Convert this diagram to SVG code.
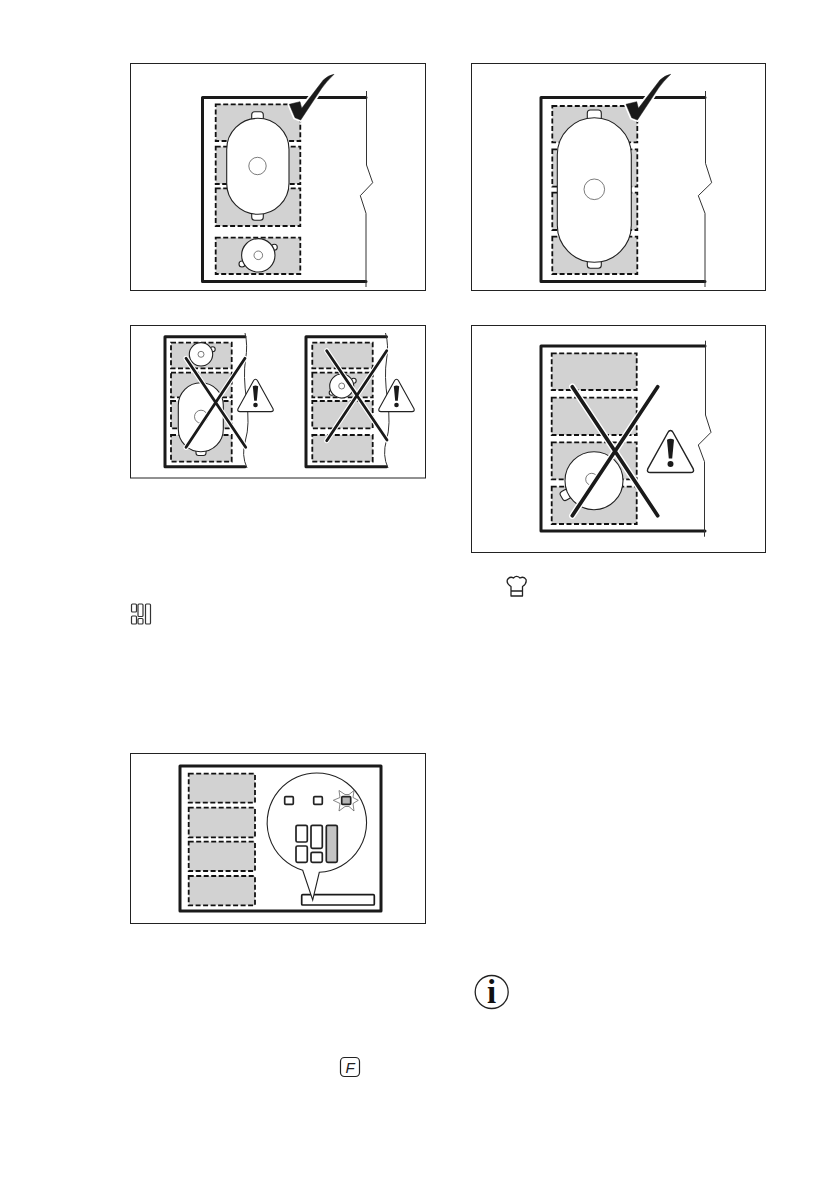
<svg xmlns="http://www.w3.org/2000/svg" width="839" height="1191" viewBox="0 0 839 1191">
<style>
.frame{fill:#fff;stroke:#222;stroke-width:1}
.hob{fill:none;stroke:#1a1a1a;stroke-width:3;stroke-linejoin:round;stroke-linecap:round}
.torn{fill:none;stroke:#333;stroke-width:1}
.zone{fill:#d2d2d2;stroke:#111;stroke-width:1.800;stroke-dasharray:5 2.500}
.pan{fill:#fff;stroke:#222;stroke-width:1.100}
.thin{fill:#fff;stroke:#444;stroke-width:.7}
.halo{fill:none;stroke:#fff;stroke-width:5;stroke-linecap:round}
.xl{fill:none;stroke:#1a1a1a;stroke-width:2.800;stroke-linecap:round}
.chk{fill:#1a1a1a;stroke:#1a1a1a;stroke-width:.5;stroke-linejoin:round}
.chkh{fill:#fff;stroke:#fff;stroke-width:4;stroke-linejoin:round}
.key{fill:#fff;stroke:#222;stroke-width:1.700}
.ico{fill:#fff;stroke:#333;stroke-width:1.200}
.tri{fill:#fff;stroke:#222;stroke-width:1.100;stroke-linejoin:round}
</style>
<defs>
<g id="check">
<path class="chkh" d="M289.300 104.300L300 101.700L301.700 108.300L323.300 80Q328 75.500 334 74.300Q326 82 321.700 88.300L300.700 120L295 117.700Z"/>
<path class="chk" d="M289.300 104.300L300 101.700L301.700 108.300L323.300 80Q328 75.500 334 74.300Q326 82 321.700 88.300L300.700 120L295 117.700Z"/>
</g>
<g id="warn">
<path class="tri" d="M0 -16.500Q1.200 -16.500 2 -15L17.500 13Q18.500 15.800 15.500 15.800L-15.500 15.800Q-18.500 15.800 -17.500 13L-2 -15Q-1.200 -16.500 0 -16.500Z"/>
<path fill="#1a1a1a" d="M-2.700 -9.500Q0 -11 2.700 -9.500L1.300 5L-1.300 5Z"/>
<circle cx="0" cy="9.200" r="2.300" fill="#1a1a1a"/>
</g>
</defs>
<rect width="839" height="1191" fill="#fff"/>

<g id="panel-1">
<rect class="frame" x="130.500" y="63.500" width="295" height="227"/>
<path class="hob" d="M366 97.500H202.500V281.500H366"/>
<path class="torn" d="M366.500 91V165L372.700 182.700L360.300 195.700L366 213.300V287"/>
<rect class="zone" x="215.700" y="104.300" width="84.600" height="36.700"/>
<rect class="zone" x="215.700" y="146.700" width="84.600" height="37.300"/>
<rect class="zone" x="215.700" y="188.300" width="84.600" height="37.700"/>
<rect class="zone" x="215.700" y="237.700" width="84.600" height="36.300"/>
<rect class="pan" x="251.700" y="111.700" width="11.600" height="12" rx="3"/>
<rect class="pan" x="251.700" y="209" width="11.600" height="11.200" rx="3"/>
<rect class="pan" x="226.700" y="118.300" width="62.300" height="96" rx="31.100"/>
<circle class="thin" cx="257.500" cy="166" r="8.700"/>
<circle class="pan" cx="274.300" cy="247.300" r="3"/>
<circle class="pan" cx="242" cy="264" r="3"/>
<circle class="pan" cx="258.300" cy="255.300" r="16.700"/>
<circle class="thin" cx="258.300" cy="255.300" r="4.300"/>
<use href="#check"/>
</g>

<g id="panel-2">
<rect class="frame" x="130.500" y="325.500" width="295" height="152.500"/>
<path class="hob" d="M245 336.700H165V466.700H245"/>
<path class="torn" d="M245 333Q248 345 245.500 360T246.500 400T245.500 440T247 468"/>
<rect class="zone" x="171" y="342.700" width="60.700" height="25.600"/>
<rect class="zone" x="171" y="372.700" width="60.700" height="24.600"/>
<rect class="zone" x="171" y="401" width="60.700" height="27.300"/>
<rect class="zone" x="171" y="435" width="60.700" height="26.700"/>
<circle class="pan" cx="212.700" cy="349.300" r="2.500"/>
<circle class="pan" cx="201" cy="354.300" r="11.700"/>
<circle class="thin" cx="201" cy="354.300" r="3"/>
<rect class="pan" x="196" y="447" width="10" height="8.500" rx="2.500"/>
<rect class="pan" x="178.300" y="382.700" width="45" height="69" rx="22.500"/>
<circle class="thin" cx="201" cy="416.700" r="6.500"/>
<path class="halo" d="M186 358.300L245.700 447.300M186 447.300L245 358.300"/>
<path class="xl" d="M186 358.300L245.700 447.300M186 447.300L245 358.300"/>
<use href="#warn" x="255.500" y="395.800"/>
<path class="hob" d="M386.500 336.700H306V466.700H386.500"/>
<path class="torn" d="M385.500 333Q389 345 386.500 360T387.500 400T386.500 440T388 468"/>
<rect class="zone" x="312.300" y="342.700" width="60.400" height="25.600"/>
<rect class="zone" x="312.300" y="372.700" width="60.400" height="24.600"/>
<rect class="zone" x="312.300" y="401" width="60.400" height="27.300"/>
<rect class="zone" x="312.300" y="435" width="60.400" height="26.700"/>
<circle class="pan" cx="353.700" cy="380.700" r="2.500"/>
<circle class="pan" cx="331.700" cy="392.700" r="2.500"/>
<circle class="pan" cx="341.700" cy="386" r="12"/>
<circle class="thin" cx="341.700" cy="386" r="3"/>
<path class="halo" d="M326.700 350.700L387 440M326.700 440.700L386.700 350.700"/>
<path class="xl" d="M326.700 350.700L387 440M326.700 440.700L386.700 350.700"/>
<use href="#warn" x="396.500" y="395.800"/>
</g>

<g id="panel-3">
<rect class="frame" x="471.500" y="63.500" width="294" height="227"/>
<path class="hob" d="M705 97.500H541V281.500H705"/>
<path class="torn" d="M705.500 91V163.300L711.700 182.700L698.300 195.700L705 213.300V287"/>
<rect class="zone" x="552.300" y="106" width="85" height="36.300"/>
<rect class="zone" x="552.300" y="149.300" width="85" height="37.400"/>
<rect class="zone" x="552.300" y="192.700" width="85" height="37.300"/>
<rect class="zone" x="552.300" y="236.700" width="85" height="37.300"/>
<rect class="pan" x="587.300" y="110" width="14" height="14" rx="3"/>
<rect class="pan" x="587.300" y="256" width="14" height="12.300" rx="3"/>
<rect class="pan" x="557.300" y="117.700" width="74" height="144.600" rx="37"/>
<circle class="thin" cx="594.300" cy="189.300" r="10.300"/>
<use href="#check" x="336.700"/>
</g>

<g id="panel-4">
<rect class="frame" x="471.500" y="325.500" width="294" height="227"/>
<path class="hob" d="M705 346H541V531H705"/>
<path class="torn" d="M705.500 340.700V415L711 432.300L698.300 445L704.500 461.700V536.700"/>
<rect class="zone" x="551.700" y="353.300" width="85" height="36.700"/>
<rect class="zone" x="551.700" y="397.700" width="85" height="37.300"/>
<rect class="zone" x="551.700" y="442.300" width="85" height="37"/>
<rect class="zone" x="551.700" y="486.700" width="85" height="37.300"/>
<rect class="pan" x="561" y="490" width="9" height="10" rx="3" transform="rotate(-30 565.500 495)"/>
<circle class="pan" cx="594" cy="480.700" r="29"/>
<circle class="thin" cx="591.700" cy="479.300" r="6"/>
<path class="halo" style="stroke-width:6.500" d="M572.300 386.700L657.700 515.700M572.300 515.700L657.700 386.700"/>
<path class="xl" style="stroke-width:3.700" d="M572.300 386.700L657.700 515.700M572.300 515.700L657.700 386.700"/>
<use href="#warn" transform="translate(670.500 452) scale(1.300)"/>
</g>

<g id="icon-zones">
<rect class="ico" x="131.500" y="604" width="5" height="8" rx="1"/>
<rect class="ico" x="131.500" y="616" width="5" height="8" rx="1"/>
<rect class="ico" x="138" y="604" width="5" height="12.500" rx="1"/>
<rect class="ico" x="138" y="618.500" width="5" height="5.500" rx="1"/>
<rect class="ico" x="145.500" y="604" width="5" height="20" rx="1"/>
</g>

<g id="icon-chef">
<path fill="#fff" stroke="#222" stroke-width="1.300" stroke-linejoin="round" d="M511 596V586.500Q506 583.500 507.500 579.500Q510 576 513.500 578Q516.500 574.800 520 578Q524 576 526 579.500Q527 583.500 522.500 586.500V596ZM511 591H522.500"/>
</g>

<g id="panel-5">
<rect class="frame" x="130.500" y="753.500" width="295" height="170"/>
<rect class="hob" x="180" y="766" width="201" height="145"/>
<rect class="zone" x="188.700" y="773.700" width="66.300" height="29"/>
<rect class="zone" x="188.700" y="807.700" width="66.300" height="29.600"/>
<rect class="zone" x="188.700" y="841.700" width="66.300" height="29.300"/>
<rect class="zone" x="188.700" y="876" width="66.300" height="29.300"/>
<rect x="301.700" y="894.700" width="72.600" height="10.300" rx="1" fill="#fff" stroke="#1a1a1a" stroke-width="1.700"/>
<path class="pan" d="M302.700 870.300A49.700 49.700 0 1 1 319.300 872.300L312.700 900Z"/>
<rect class="key" x="284.700" y="796.700" width="8.600" height="7.600" rx="1"/>
<rect class="key" x="313.700" y="796.700" width="8.600" height="7.600" rx="1"/>
<path fill="#fff" stroke="#555" stroke-width=".7" stroke-linejoin="round" d="M333.300 800.300L340 797.500L339 790.500L345 794.500L349 794.500L354 790.500L353 797.500L358.300 800.300L353 803.500L354 811L349 806.500L345 806.500L339 811L340 803.500Z"/>
<rect class="key" style="fill:#b5b5b5" x="341.700" y="796.700" width="9" height="7.600" rx="1"/>
<rect class="key" x="296" y="825.300" width="11.300" height="16.700" rx="1.500"/>
<rect class="key" x="296" y="846" width="11.300" height="16.300" rx="1.500"/>
<rect class="key" x="311" y="825.300" width="11.300" height="23" rx="1.500"/>
<rect class="key" x="311" y="852.300" width="11.300" height="10" rx="1.500"/>
<rect class="key" style="fill:#c4c4c4" x="326.300" y="825.300" width="11" height="37" rx="1.500"/>
</g>

<g id="icon-info">
<circle cx="491.700" cy="992" r="16.500" fill="#fff" stroke="#222" stroke-width="1.300"/>
<text x="491.700" y="1003" font-family="'Liberation Serif',serif" font-weight="700" font-size="33" text-anchor="middle" fill="#111">i</text>
</g>

<g id="icon-f">
<rect x="340.500" y="1057.500" width="19" height="19" rx="4" fill="#fff" stroke="#222" stroke-width="1.200"/>
<text x="350" y="1073" font-family="'Liberation Sans',sans-serif" font-style="italic" font-size="15" text-anchor="middle" fill="#222">F</text>
</g>
</svg>
